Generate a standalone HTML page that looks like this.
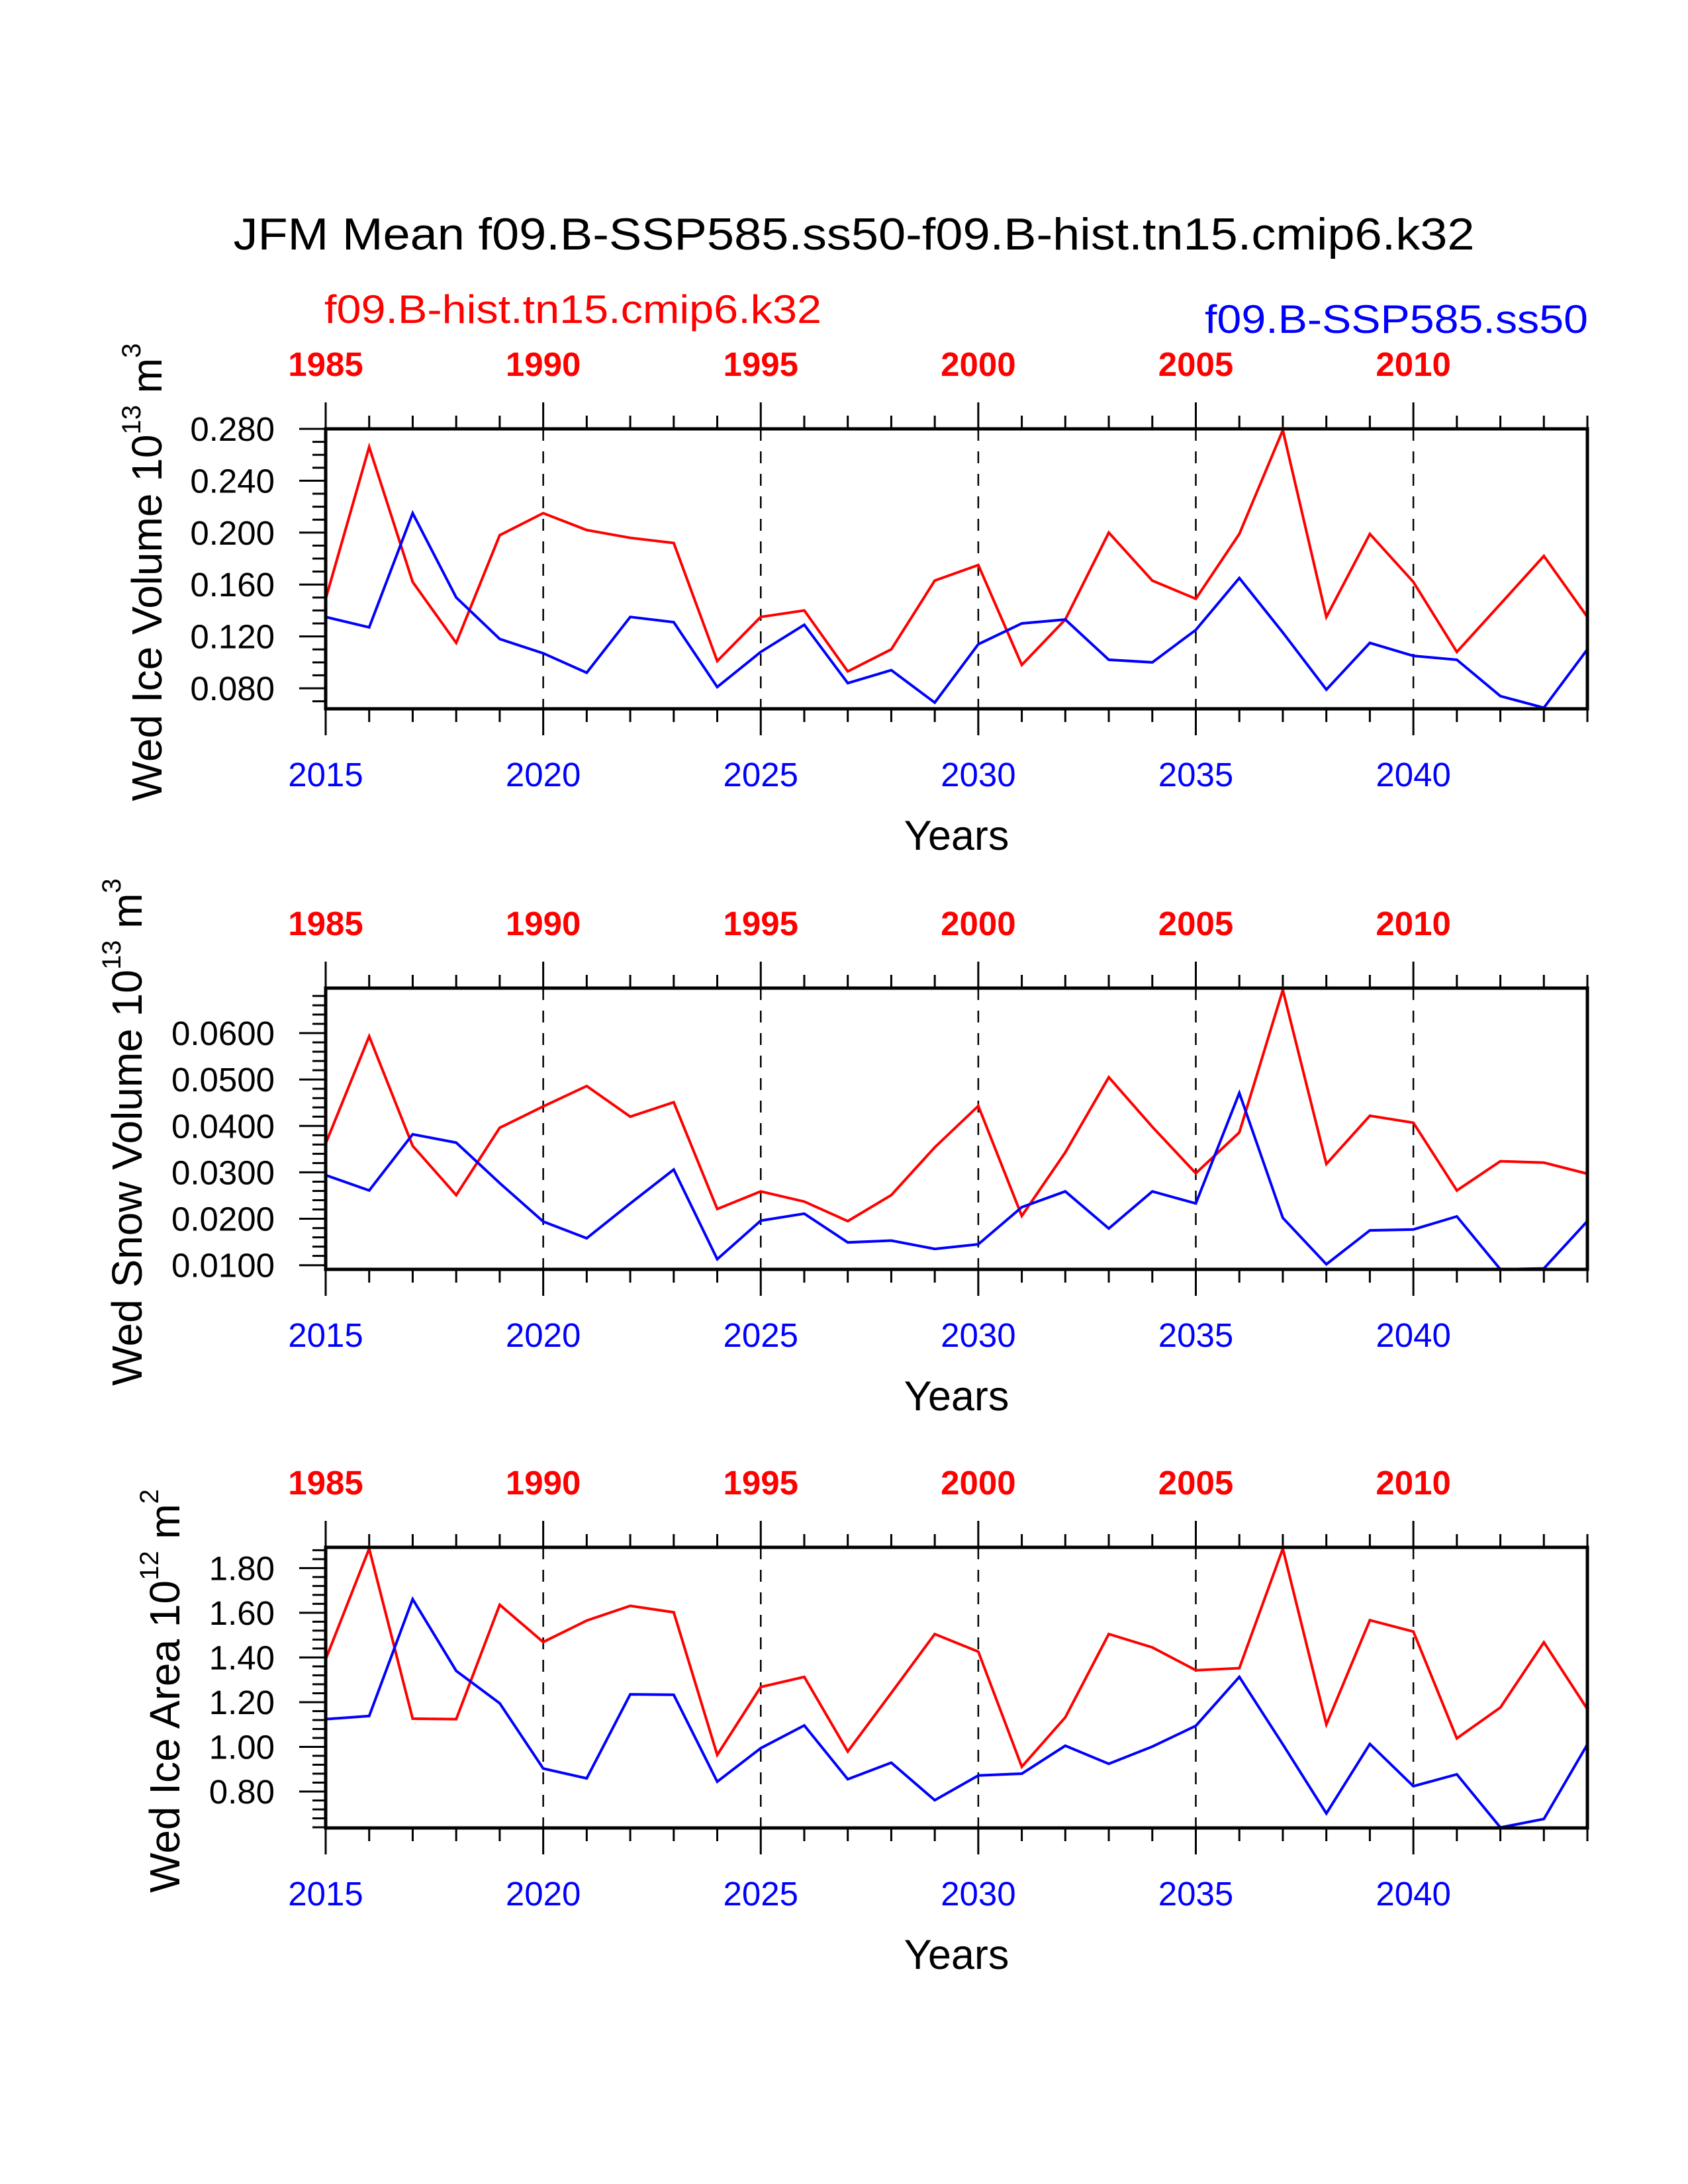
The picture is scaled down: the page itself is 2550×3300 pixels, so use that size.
<!DOCTYPE html>
<html><head><meta charset="utf-8"><style>html,body{margin:0;padding:0;background:#fff}svg{display:block}</style></head>
<body>
<svg id="chart" xmlns="http://www.w3.org/2000/svg" width="2550" height="3300" viewBox="0 0 2550 3300" font-family="Liberation Sans, sans-serif">
<rect width="2550" height="3300" fill="#fff"/>
<text x="1290" y="377" font-size="68" text-anchor="middle" textLength="1875" lengthAdjust="spacingAndGlyphs">JFM Mean f09.B-SSP585.ss50-f09.B-hist.tn15.cmip6.k32</text>
<text x="490" y="488" font-size="60" fill="#ff0000" textLength="751" lengthAdjust="spacingAndGlyphs">f09.B-hist.tn15.cmip6.k32</text>
<text x="2399" y="503" font-size="60" fill="#0000ff" text-anchor="end" textLength="579" lengthAdjust="spacingAndGlyphs">f09.B-SSP585.ss50</text>
<g id="panels"></g>
</svg>
<script>
const years = [2015,2016,2017,2018,2019,2020,2021,2022,2023,2024,2025,2026,2027,2028,2029,2030,2031,2032,2033,2034,2035,2036,2037,2038,2039,2040,2041,2042,2043,2044];
const bottomTickLabels = ["2015","2020","2025","2030","2035","2040"];
const topTickLabels = ["1985","1990","1995","2000","2005","2010"];
const iceVolHist = [0.149,0.266,0.162,0.115,0.198,0.215,0.202,0.196,0.192,0.101,0.135,0.140,0.093,0.110,0.163,0.175,0.098,0.133,0.200,0.163,0.149,0.199,0.279,0.135,0.199,0.162,0.108,0.145,0.182,0.135];
const iceVolSsp = [0.135,0.127,0.215,0.150,0.118,0.107,0.092,0.135,0.131,0.081,0.108,0.129,0.084,0.094,0.069,0.114,0.130,0.133,0.102,0.100,0.125,0.165,0.123,0.079,0.115,0.105,0.102,0.074,0.065,0.110];
const iceVolTicks = [0.080,0.120,0.160,0.200,0.240,0.280];
const snowVolHist = [0.0362,0.0593,0.0357,0.0251,0.0396,0.0442,0.0486,0.0420,0.0451,0.0221,0.0259,0.0237,0.0195,0.0251,0.0354,0.0443,0.0206,0.0343,0.0505,0.0398,0.0298,0.0386,0.0693,0.0318,0.0422,0.0407,0.0261,0.0324,0.0321,0.0297];
const snowVolSsp = [0.0294,0.0261,0.0382,0.0364,0.0277,0.0194,0.0158,0.0233,0.0306,0.0113,0.0196,0.0211,0.0149,0.0153,0.0135,0.0145,0.0225,0.0259,0.0179,0.0259,0.0233,0.0471,0.0202,0.0102,0.0175,0.0177,0.0205,0.0091,0.0093,0.0195];
const snowVolTicks = [0.0100,0.0200,0.0300,0.0400,0.0500,0.0600];
const iceAreaHist = [1.392,1.887,1.126,1.124,1.636,1.469,1.565,1.631,1.602,0.964,1.268,1.313,0.979,1.241,1.505,1.426,0.911,1.132,1.505,1.445,1.343,1.352,1.887,1.100,1.567,1.516,1.038,1.176,1.468,1.169];
const iceAreaSsp = [1.124,1.138,1.661,1.340,1.195,0.903,0.859,1.235,1.233,0.844,0.994,1.096,0.855,0.929,0.761,0.872,0.880,1.005,0.924,1.001,1.094,1.313,1.011,0.702,1.013,0.824,0.877,0.639,0.677,1.011];
const iceAreaTicks = [0.80,1.00,1.20,1.40,1.60,1.80];

const NS = "http://www.w3.org/2000/svg";
const root = document.getElementById('panels');
function mk(tag, attrs, parent){const e=document.createElementNS(NS,tag);for(const k in attrs)e.setAttribute(k,attrs[k]);(parent||root).appendChild(e);return e;}

const X0=492, X1=2398;
function xs(yr){return X0+(yr-2015)*(X1-X0)/29;}

const panels=[
 {top:648,bot:1071,ymin:0.0642,ymax:0.280,minor:0.01,ticks:iceVolTicks,dec:3,hist:iceVolHist,ssp:iceVolSsp,title:["Wed Ice Volume 10","13"," m","3"],tx:244,name:"ice-volume"},
 {top:1493,bot:1918,ymin:0.0091,ymax:0.0697,minor:0.002,ticks:snowVolTicks,dec:4,hist:snowVolHist,ssp:snowVolSsp,title:["Wed Snow Volume 10","13"," m","3"],tx:214,name:"snow-volume"},
 {top:2338,bot:2762,ymin:0.637,ymax:1.893,minor:0.04,ticks:iceAreaTicks,dec:2,hist:iceAreaHist,ssp:iceAreaSsp,title:["Wed Ice Area 10","12"," m","2"],tx:271,name:"ice-area"}
];

panels.forEach((p,pi)=>{
  const g=mk('g',{});
  
  
  const ys=v=>p.bot-(v-p.ymin)*(p.bot-p.top)/(p.ymax-p.ymin);
  for(let yr=2020;yr<=2040;yr+=5){
    const l=mk('line',{x1:xs(yr),x2:xs(yr),y1:p.top,y2:p.bot,stroke:'#000','stroke-width':2.5,'stroke-dasharray':'18,16'},g);
    
    
  }
  years.forEach(yr=>{
    const major=(yr-2015)%5===0;
    const len=major?40:20;
    mk('line',{x1:xs(yr),x2:xs(yr),y1:p.bot,y2:p.bot+len,stroke:'#000','stroke-width':3},g);
    mk('line',{x1:xs(yr),x2:xs(yr),y1:p.top,y2:p.top-len,stroke:'#000','stroke-width':3},g);
  });
  bottomTickLabels.forEach((lab,i)=>{
    const t=mk('text',{x:xs(2015+5*i),y:p.bot+117,'font-size':51,fill:'#0000ff','text-anchor':'middle'},g);
    t.textContent=lab;
    
    
  });
  topTickLabels.forEach((lab,i)=>{
    const t=mk('text',{x:xs(2015+5*i),y:p.top-80,'font-size':51,'font-weight':'bold',fill:'#ff0000','text-anchor':'middle'},g);
    t.textContent=lab;
    
    
  });
  const nMin=Math.ceil(p.ymin/p.minor-1e-6), nMax=Math.floor(p.ymax/p.minor+1e-6);
  for(let n=nMin;n<=nMax;n++){
    const v=n*p.minor;
    const major=p.ticks.some(t=>Math.abs(t-v)<p.minor/10);
    mk('line',{x1:X0,x2:X0-(major?40:20),y1:ys(v),y2:ys(v),stroke:'#000','stroke-width':3},g);
  }
  p.ticks.forEach(v=>{
    const t=mk('text',{x:415,y:ys(v)+18,'font-size':51,'text-anchor':'end'},g);
    t.textContent=v.toFixed(p.dec);
    
    
  });
  [[p.hist,'#ff0000','hist-line'],[p.ssp,'#0000ff','ssp585-line']].forEach(([arr,col,nm])=>{
    const pts=arr.map((v,i)=>xs(years[i]).toFixed(1)+','+ys(v).toFixed(1)).join(' ');
    const pl=mk('polyline',{points:pts,fill:'none',stroke:col,'stroke-width':4,'stroke-linejoin':'miter'},g);
    
    
  });
  const fr=mk('rect',{x:X0,y:p.top,width:X1-X0,height:p.bot-p.top,fill:'none',stroke:'#000','stroke-width':5},g);
  
  
  const xt=mk('text',{x:1445,y:p.bot+213,'font-size':63,'text-anchor':'middle'},g);
  xt.textContent='Years';
  
  
  const cy=(p.top+p.bot)/2+5;
  const yt=mk('text',{x:0,y:0,'font-size':64,'text-anchor':'middle',transform:'translate('+p.tx+','+cy+') rotate(-90)'},g);
  
  
  const parts=p.title;
  const a=mk('tspan',{},yt);a.textContent=parts[0];
  const b=mk('tspan',{dy:-32,'font-size':40},yt);b.textContent=parts[1];
  const c=mk('tspan',{dy:32},yt);c.textContent=parts[2];
  const d=mk('tspan',{dy:-32,'font-size':40},yt);d.textContent=parts[3];
});
</script>
</body></html>
